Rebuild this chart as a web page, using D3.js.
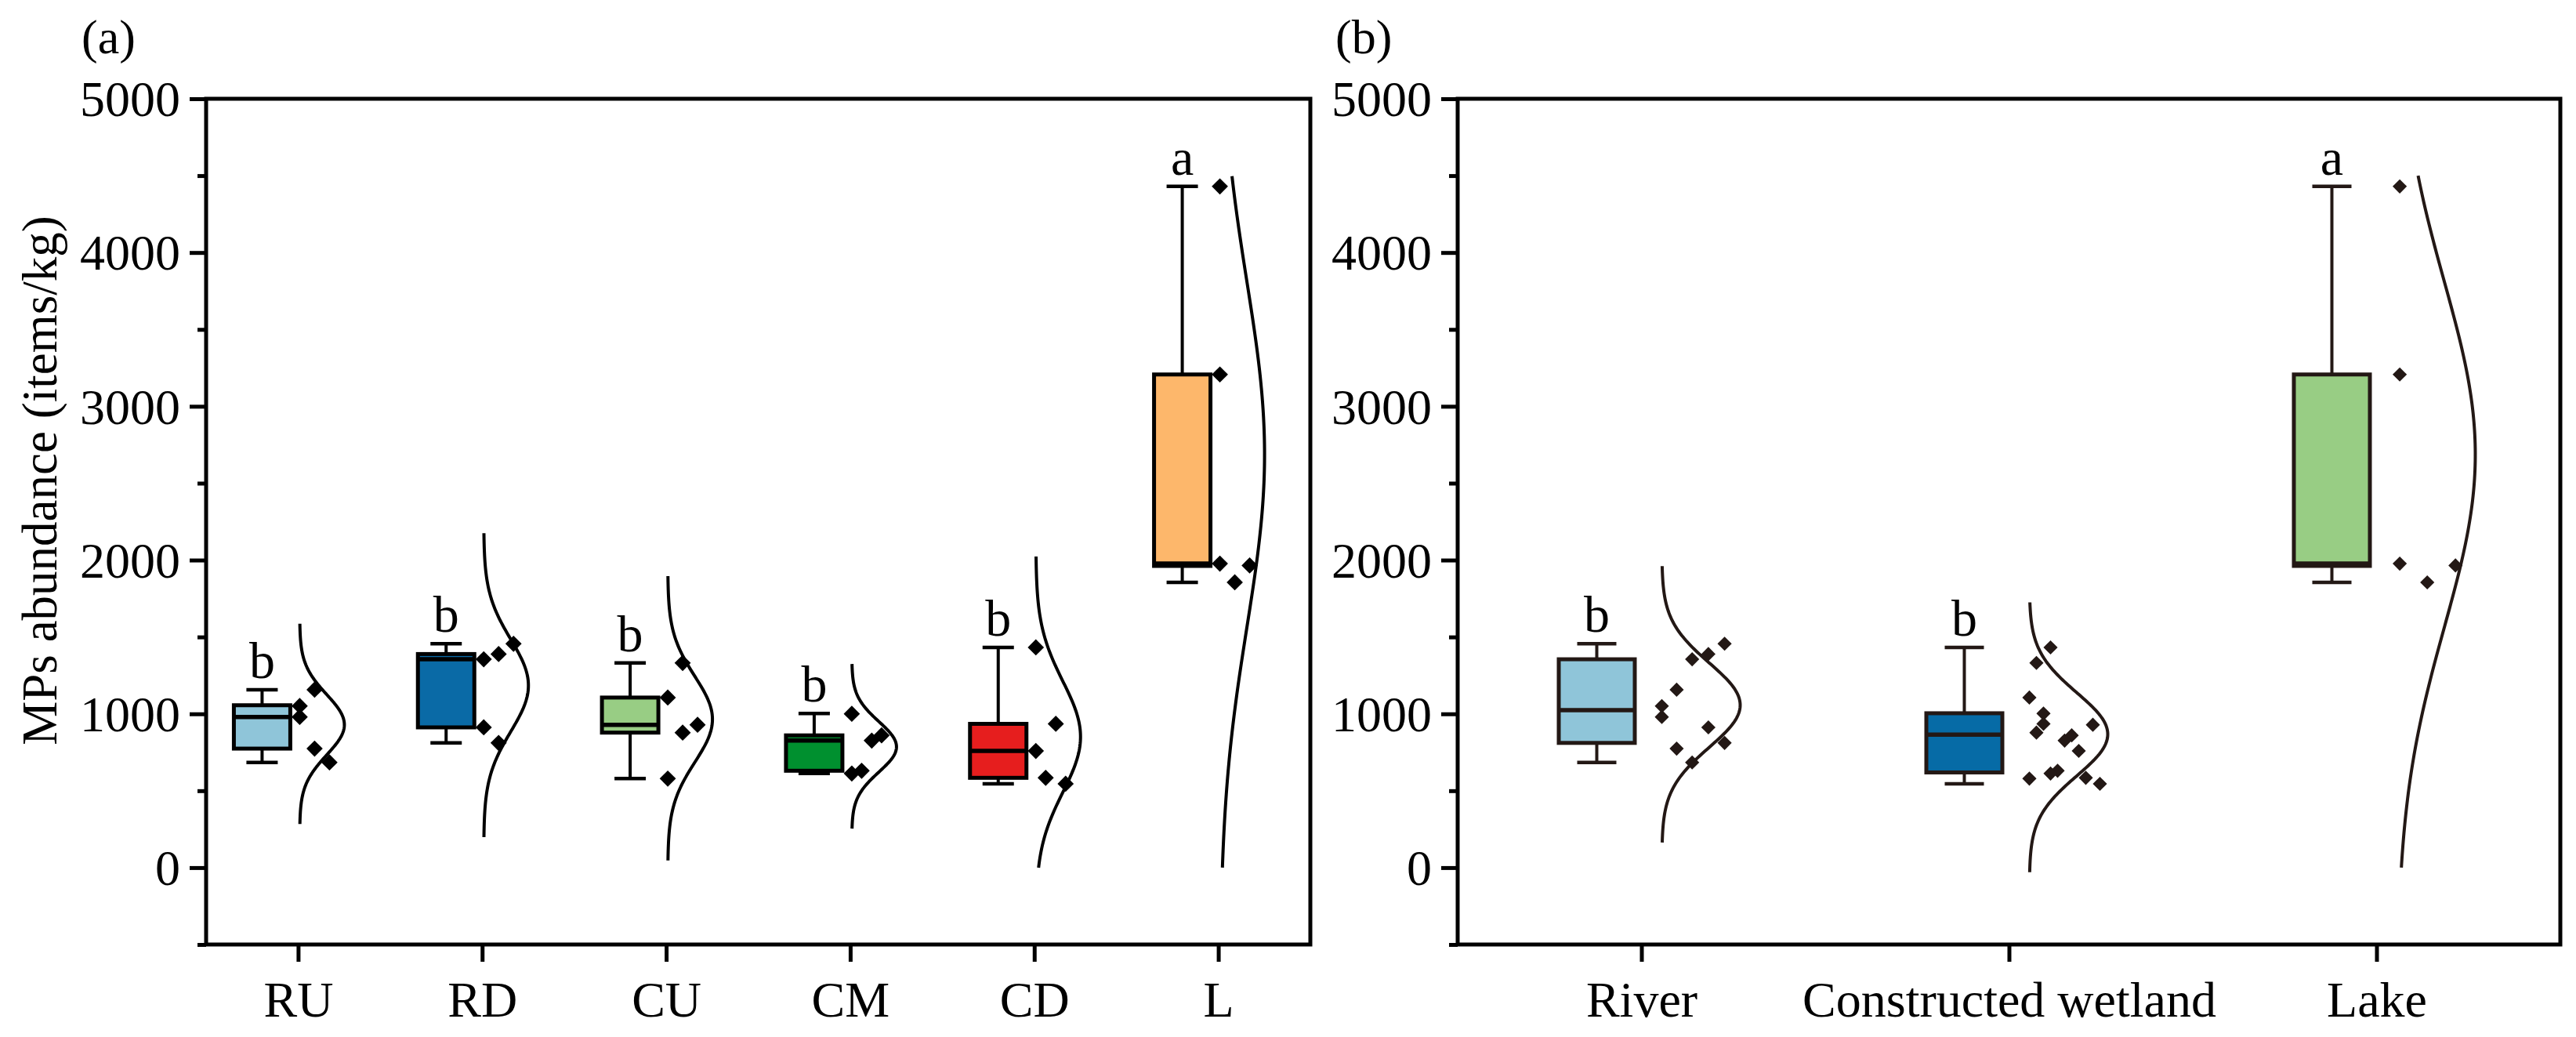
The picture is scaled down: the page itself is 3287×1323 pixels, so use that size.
<!DOCTYPE html>
<html>
<head>
<meta charset="utf-8">
<script src="https://cdn.jsdelivr.net/npm/d3@7"></script>
<style>
  html, body { margin: 0; padding: 0; background: #ffffff; }
  svg { display: block; }
  text { font-family: "Liberation Serif", "Times New Roman", serif; fill: #000; }
</style>
</head>
<body>
<svg id="chart" width="3287" height="1323"></svg>
<script>
// ---------------- DATA ----------------
const yMajorTicks = [0, 1000, 2000, 3000, 4000, 5000];
const yMinorTicks = [-500, 500, 1500, 2500, 3500, 4500];

// Panel (a)
const catsA = ["RU", "RD", "CU", "CM", "CD", "L"];
const colorsA = ["#8fc5d9", "#0a6aa6", "#98cd84", "#00902f", "#e61e1e", "#fdb76b"];
const minA = [684, 811, 579, 612, 545, 1855];
const q1A  = [774, 912, 878, 630, 584, 1962];
const medA = [980, 1355, 929, 826, 759, 1977];
const q3A  = [1056, 1389, 1106, 860, 935, 3207];
const maxA = [1157, 1456, 1331, 1002, 1432, 4430];
const lettersA = ["b", "b", "b", "b", "b", "a"];
const pointsA = [
  [1051, 980, 1157, 774, 684],
  [1355, 912, 1389, 811, 1456],
  [1106, 579, 1331, 878, 929],
  [1000, 612, 630, 826, 860],
  [1432, 759, 584, 935, 545],
  [4430, 3207, 1977, 1855, 1965]
];
const jitterA = [
  [0, 0, 0.5, 0.5, 1],
  [0, 0, 0.5, 0.5, 1],
  [0, 0, 0.5, 0.5, 1],
  [0, 0, 0.33, 0.67, 1],
  [0, 0, 0.33, 0.67, 1],
  [0, 0, 0, 0.5, 1]
];
const curveLoA = [284, 198, 47, 254, 0, 0];
const curveHiA = [1586, 2175, 1896, 1324, 2023, 4497];

// Panel (b)
const catsB = ["River", "Constructed wetland", "Lake"];
const colorsB = ["#8fc5d9", "#066ba6", "#98cd84"];
const minB = [684, 545, 1855];
const q1B  = [811, 619, 1962];
const medB = [1024, 865, 1977];
const q3B  = [1355, 1004, 3207];
const maxB = [1456, 1432, 4430];
const lettersB = ["b", "b", "a"];
const pointsB = [
  [1051, 980, 1157, 774, 1355, 684, 1389, 912, 1456, 811],
  [1432, 1331, 1106, 1002, 935, 929, 878, 860, 826, 759, 630, 612, 584, 579, 545],
  [4430, 3207, 1977, 1855, 1965]
];
const jitterB = [
  [0, 0, 0.21, 0.21, 0.43, 0.43, 0.66, 0.66, 0.89, 0.89],
  [0.3, 0.1, 0, 0.2, 0.2, 0.9, 0.1, 0.6, 0.5, 0.7, 0.4, 0.3, 0.8, 0, 1.0],
  [0.04, 0.04, 0.04, 0.43, 0.83]
];
const curveLoB = [163, -30, 0];
const curveHiB = [1961, 1725, 4500];

// ---------------- DRAW ----------------
const svg = d3.select("#chart");
svg.append("rect").attr("width", 3287).attr("height", 1323).attr("fill", "#ffffff");

const yTop = 126, yBot = 1205;
const y = d3.scaleLinear().domain([-500, 5000]).range([yBot, yTop]);
const FS = 64;

function drawPanel(cfg) {
  const g = svg.append("g");
  const x = d3.scalePoint().domain(cfg.cats).range([cfg.x0, cfg.x1]).padding(0.5);

  // y axis majors
  const ya = g.append("g").attr("transform", `translate(${cfg.x0},0)`)
    .call(d3.axisLeft(y).tickValues(yMajorTicks).tickSize(21).tickPadding(12).tickFormat(d3.format("d")));
  ya.select(".domain").remove();
  ya.selectAll("line").attr("stroke", "#000").attr("stroke-width", 5);
  ya.selectAll("text").style("font-size", FS + "px").attr("dy", "0.34em")
    .style("font-family", "'Liberation Serif', serif");

  // y axis minors
  const ym = g.append("g").attr("transform", `translate(${cfg.x0},0)`)
    .call(d3.axisLeft(y).tickValues(yMinorTicks).tickSize(11).tickFormat(""));
  ym.select(".domain").remove();
  ym.selectAll("line").attr("stroke", "#000").attr("stroke-width", 5);

  // x axis
  const xa = g.append("g").attr("transform", `translate(0,${yBot})`)
    .call(d3.axisBottom(x).tickSize(22).tickSizeOuter(0));
  xa.select(".domain").remove();
  xa.selectAll("line").attr("stroke", "#000").attr("stroke-width", 5);
  xa.selectAll("text").style("font-size", FS + "px").attr("y", 92).attr("dy", 0)
    .style("font-family", "'Liberation Serif', serif");

  // frame
  g.append("rect").attr("x", cfg.x0).attr("y", yTop)
    .attr("width", cfg.x1 - cfg.x0).attr("height", yBot - yTop)
    .attr("fill", "none").attr("stroke", "#000").attr("stroke-width", 5);

  const ink = cfg.ink;

  cfg.cats.forEach((c, i) => {
    const tx = x(c);
    const bc = tx + cfg.boxOff;
    const pts = cfg.points[i];
    const mean = d3.mean(pts), sd = d3.deviation(pts);

    // normal curve
    const lo = cfg.curveLo[i], hi = cfg.curveHi[i];
    const n = 160;
    const samples = d3.range(n + 1).map(k => lo + (hi - lo) * k / n);
    const line = d3.line()
      .x(v => tx + cfg.curveBase + cfg.curveAmp * Math.exp(-0.5 * Math.pow((v - mean) / sd, 2)))
      .y(v => y(v));
    g.append("path").attr("d", line(samples)).attr("fill", "none")
      .attr("stroke", ink).attr("stroke-width", 4);

    // whiskers
    g.append("line").attr("x1", bc).attr("x2", bc)
      .attr("y1", y(cfg.max[i])).attr("y2", y(cfg.min[i]))
      .attr("stroke", ink).attr("stroke-width", 4);
    [cfg.max[i], cfg.min[i]].forEach(v => {
      g.append("line").attr("x1", bc - cfg.capW / 2).attr("x2", bc + cfg.capW / 2)
        .attr("y1", y(v)).attr("y2", y(v))
        .attr("stroke", ink).attr("stroke-width", 4.5);
    });

    // box
    g.append("rect").attr("x", bc - cfg.boxW / 2).attr("y", y(cfg.q3[i]))
      .attr("width", cfg.boxW).attr("height", y(cfg.q1[i]) - y(cfg.q3[i]))
      .attr("fill", cfg.colors[i]).attr("stroke", ink).attr("stroke-width", 5);
    g.append("line").attr("x1", bc - cfg.boxW / 2).attr("x2", bc + cfg.boxW / 2)
      .attr("y1", y(cfg.med[i])).attr("y2", y(cfg.med[i]))
      .attr("stroke", ink).attr("stroke-width", 5.5);

    // letters
    g.append("text").attr("x", bc).attr("y", y(cfg.max[i]) - 15)
      .attr("text-anchor", "middle").style("font-size", "66px").text(cfg.letters[i]);

    // points
    const sym = d3.symbol().type(d3.symbolSquare).size(cfg.ptSize);
    pts.forEach((v, k) => {
      const px = tx + cfg.ptStart + cfg.jitter[i][k] * cfg.ptSpread;
      g.append("path").attr("d", sym())
        .attr("transform", `translate(${px},${y(v)}) rotate(45)`)
        .attr("fill", ink);
    });
  });

  // panel label
  g.append("text").attr("x", cfg.labelX).attr("y", 68)
    .style("font-size", "62px").text(cfg.label);
}

drawPanel({
  cats: catsA, x0: 263, x1: 1672, colors: colorsA,
  min: minA, q1: q1A, med: medA, q3: q3A, max: maxA, letters: lettersA,
  points: pointsA, jitter: jitterA, curveLo: curveLoA, curveHi: curveHiA,
  boxOff: -46, boxW: 72, capW: 40,
  ptStart: 2, ptSpread: 38, ptSize: 215,
  curveBase: 2, curveAmp: 57, ink: "#000000",
  label: "(a)", labelX: 104
});

drawPanel({
  cats: catsB, x0: 1860, x1: 3267, colors: colorsB,
  min: minB, q1: q1B, med: medB, q3: q3B, max: maxB, letters: lettersB,
  points: pointsB, jitter: jitterB, curveLo: curveLoB, curveHi: curveHiB,
  boxOff: -57, boxW: 97, capW: 50,
  ptStart: 26, ptSpread: 90, ptSize: 165,
  curveBase: 26, curveAmp: 100, ink: "#231815",
  label: "(b)", labelX: 1704
});

// y axis title
svg.append("text")
  .attr("transform", "translate(72,613) rotate(-90)")
  .attr("text-anchor", "middle")
  .style("font-size", "63px")
  .text("MPs abundance (items/kg)");
</script>
</body>
</html>
